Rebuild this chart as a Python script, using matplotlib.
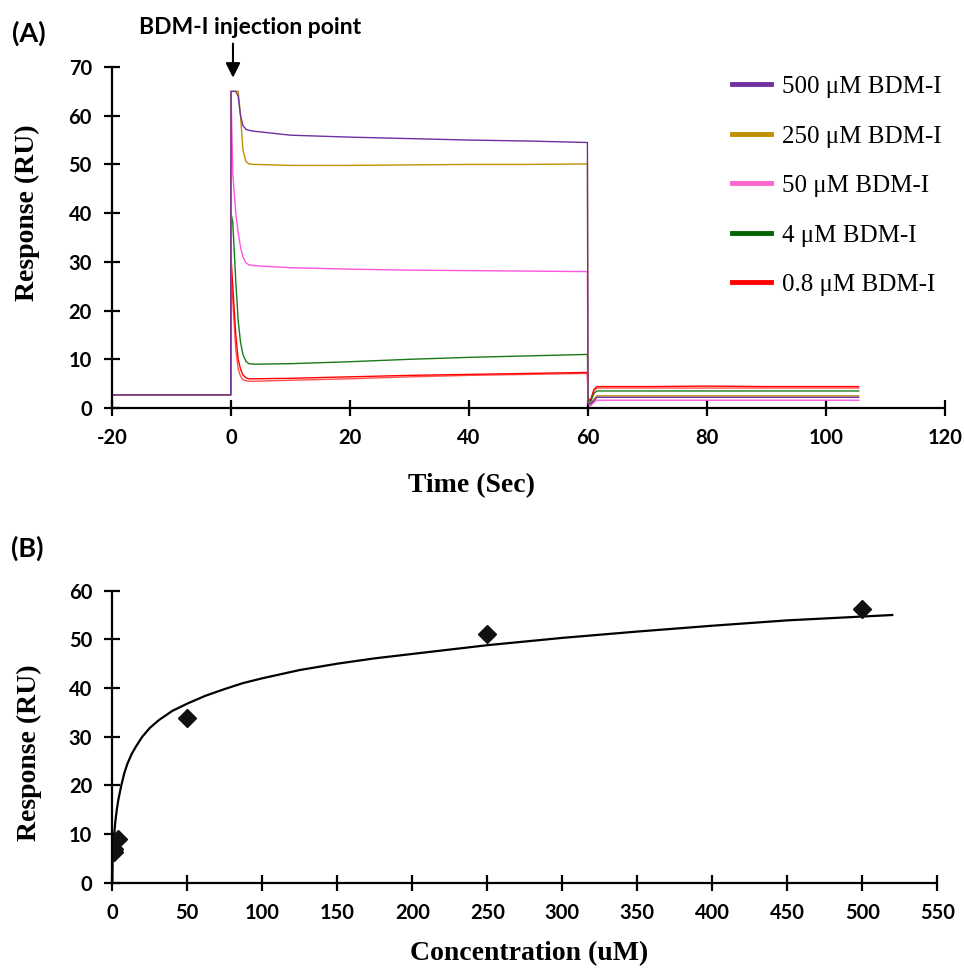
import matplotlib
matplotlib.use("Agg")
import matplotlib.pyplot as plt
from matplotlib.lines import Line2D

plt.rcParams["axes.unicode_minus"] = False

# ---------------- data ----------------
# Panel A: sensorgrams (time in s, response in RU)
time_s = [-20, -0.05, 0, 0.3, 0.8, 1.2, 1.6, 2.0, 2.5, 3.0, 4, 10, 20, 30, 40, 50,
          59.9, 60.0, 60.4, 61.0, 61.5, 70, 80, 90, 105.5]
resp_500 = [2.7, 2.7, 65, 65, 65, 64, 60, 58, 57.2, 57.0, 56.8, 56.0, 55.6, 55.3, 55.0, 54.8,
            54.5, 1.0, 0.8, 1.5, 2.2, 2.2, 2.2, 2.2, 2.2]
resp_250 = [2.7, 2.7, 65, 65, 65, 65, 60, 53, 50.6, 50.1, 50.0, 49.8, 49.8, 49.9, 50.0, 50.0,
            50.1, 1.2, 1.0, 1.8, 2.5, 2.5, 2.5, 2.5, 2.5]
resp_50 = [2.7, 2.7, 65, 48, 40, 36, 33, 31, 29.8, 29.4, 29.2, 28.8, 28.5, 28.3, 28.2, 28.1,
           28.0, 1.0, 0.4, 1.2, 1.6, 1.6, 1.6, 1.6, 1.6]
resp_4 = [2.7, 2.7, 40, 38, 26, 18, 13.5, 11, 9.6, 9.1, 9.0, 9.1, 9.5, 10.0, 10.4, 10.7,
          11.0, 2.0, 1.2, 3.0, 3.5, 3.5, 3.5, 3.5, 3.5]
resp_08 = [2.7, 2.7, 31, 25, 15, 10, 8, 6.8, 6.2, 6.0, 6.0, 6.1, 6.4, 6.7, 6.9, 7.1,
           7.3, 2.0, 1.5, 3.8, 4.4, 4.4, 4.5, 4.4, 4.4]
resp_08b = [2.7, 2.7, 28, 22, 12, 8, 6.5, 5.8, 5.6, 5.5, 5.5, 5.7, 6.0, 6.4, 6.7, 6.9,
            7.1, 2.0, 1.5, 3.6, 4.1, 4.1, 4.1, 4.1, 4.1]
series_labels = ["500 \u03bcM BDM-I", "250 \u03bcM BDM-I", "50 \u03bcM BDM-I",
                 "4 \u03bcM BDM-I", "0.8 \u03bcM BDM-I"]

# Panel B: steady-state responses and fitted curve
conc_pts = [0.8, 0.8, 4, 50, 250, 500]
resp_pts = [6.3, 7.0, 9.0, 33.8, 51.2, 56.3]
conc_fit = [0, 0.2, 0.5, 1, 2, 3, 4, 6, 8, 10, 13, 16, 20, 25, 31, 40, 50, 62, 75, 87,
            100, 125, 150, 175, 200, 250, 300, 350, 400, 450, 520]
resp_fit = [0, 4.0, 6.5, 9.0, 12.5, 15.0, 17.0, 20.0, 22.5, 24.4, 26.5, 28.1, 30.0,
            31.8, 33.4, 35.3, 36.8, 38.4, 39.8, 41.0, 42.0, 43.7, 45.0, 46.1, 47.0,
            48.8, 50.3, 51.6, 52.8, 53.9, 55.0]

xticks_a = [-20, 0, 20, 40, 60, 80, 100, 120]
yticks_a = [0, 10, 20, 30, 40, 50, 60, 70]
xticks_b = list(range(0, 551, 50))
yticks_b = [0, 10, 20, 30, 40, 50, 60]

# ---------------- style ----------------
c500, c250, c50, c4, c08, c08b = "#7030A0", "#BF8F00", "#FF55E0", "#1A7A1A", "#FF0000", "#FF5050"
tick_font = dict(family="Lato", weight="bold", size=14.5)
label_font = dict(family="Liberation Serif", weight="bold", size=20)

fig = plt.figure(figsize=(9.64, 9.68), dpi=100)
axA = fig.add_axes([0.1162, 0.5785, 0.8641, 0.3523])
axB = fig.add_axes([0.1165, 0.0881, 0.8558, 0.3017])

def style_axes(ax):
    for s in ("top", "right"):
        ax.spines[s].set_visible(False)
    for s in ("left", "bottom"):
        ax.spines[s].set_linewidth(1.6)
    ax.tick_params(direction="inout", length=11, width=1.6, pad=9)
    for lab in ax.get_xticklabels() + ax.get_yticklabels():
        lab.set_fontfamily(tick_font["family"])
        lab.set_fontweight(tick_font["weight"])
        lab.set_fontsize(tick_font["size"])

# ----- Panel A -----
lw = 1.0
axA.plot(time_s, resp_08b, color=c08b, lw=lw)
axA.plot(time_s, resp_08, color=c08, lw=lw)
axA.plot(time_s, resp_4, color=c4, lw=lw)
axA.plot(time_s, resp_50, color=c50, lw=lw)
axA.plot(time_s, resp_250, color=c250, lw=lw)
axA.plot(time_s, resp_500, color=c500, lw=lw)
axA.set_xlim(-20, 120)
axA.set_ylim(0, 70)
axA.set_xticks(xticks_a)
axA.set_yticks(yticks_a)
style_axes(axA)
axA.set_xlabel("Time (Sec)", **label_font)
axA.xaxis.set_label_coords(0.431, -0.19)
axA.set_ylabel("Response (RU)", va="center", ha="center", **label_font)
axA.yaxis.set_label_coords(-0.101, 0.572)

handles = [Line2D([], [], color=c, lw=3.5) for c in (c500, c250, "#FF66CC", "#006400", c08)]
leg = axA.legend(handles, series_labels, loc="upper left", bbox_to_anchor=(0.744, 0.975),
                 frameon=False, prop=dict(family="Liberation Serif", size=18),
                 handlelength=1.55, handletextpad=0.45, labelspacing=1.08, borderpad=0,
                 borderaxespad=0)

axA.annotate("", xy=(0.33, 67.8), xytext=(0.33, 74.8), annotation_clip=False,
             arrowprops=dict(arrowstyle="-|>", mutation_scale=22, lw=1.5, color="black",
                             shrinkA=0, shrinkB=0))
fig.text(0.259, 0.972, "BDM-I injection point", ha="center", va="center",
         family="Lato", weight="bold", size=16.5)
fig.text(0.030, 0.966, "(A)", ha="center", va="center", family="Lato", weight="bold", size=19.5)
fig.text(0.028, 0.434, "(B)", ha="center", va="center", family="Lato", weight="bold", size=19.5)

# ----- Panel B -----
axB.plot(conc_fit, resp_fit, color="black", lw=1.6)
axB.plot(conc_pts, resp_pts, ls="none", marker="D", ms=9, color="#111111")
axB.set_xlim(0, 550)
axB.set_ylim(0, 60)
axB.set_xticks(xticks_b)
axB.set_yticks(yticks_b)
style_axes(axB)
axB.set_xlabel("Concentration (uM)", **label_font)
axB.xaxis.set_label_coords(0.505, -0.2)
axB.set_ylabel("Response (RU)", va="center", ha="center", **label_font)
axB.yaxis.set_label_coords(-0.101, 0.444)

fig.savefig("out.png", dpi=100, facecolor="white")
